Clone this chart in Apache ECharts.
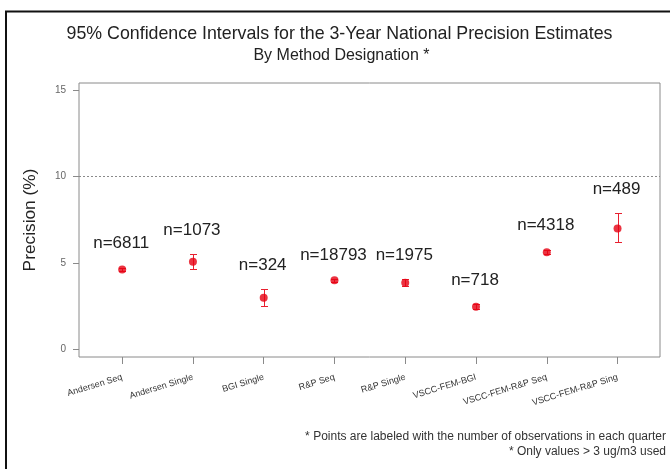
<!DOCTYPE html>
<html>
<head>
<meta charset="utf-8">
<script src="https://cdn.jsdelivr.net/npm/echarts@6/dist/echarts.min.js"></script>
<style>
  html, body { margin: 0; padding: 0; background: #fff; }
  #chart { width: 670px; height: 469px; }
</style>
</head>
<body>
<div id="chart"></div>
<script>
// Method designations along the x axis
const categories = [
  'Andersen Seq', 'Andersen Single', 'BGI Single', 'R&P Seq',
  'R&P Single', 'VSCC-FEM-BGI', 'VSCC-FEM-R&P Seq', 'VSCC-FEM-R&P Sing'
];
// Precision estimate (%) and its 95% confidence limits
const precision = [4.63, 5.07, 2.99, 4.00, 3.86, 2.47, 5.63, 7.00];
const lowerCI   = [4.53, 4.65, 2.52, 3.92, 3.68, 2.33, 5.50, 6.23];
const upperCI   = [4.73, 5.52, 3.49, 4.08, 4.05, 2.62, 5.77, 7.87];
// Number of observations behind each estimate
const counts = [6811, 1073, 324, 18793, 1975, 718, 4318, 489];
// Tick values
const yTicks = [0, 5, 10, 15];
const xTicks = categories.map((_, i) => i);
const referenceLine = 10;

const FONT = 'Liberation Sans, Arial, sans-serif';
const pointColor = '#e60012';
const barColor = '#e8202f';
const frameColor = '#8a8a8a';

const chart = echarts.init(document.getElementById('chart'), null, { renderer: 'canvas' });

const intervalData = categories.map((_, i) => [i, lowerCI[i], upperCI[i], counts[i]]);
const pointData = categories.map((_, i) => [i, precision[i]]);

chart.setOption({
  backgroundColor: '#ffffff',
  animation: false,
  graphic: [
    {
      type: 'rect', silent: true, z: 0,
      shape: { x: 6, y: 11.5, width: 700, height: 500 },
      style: { fill: 'none', stroke: '#111', lineWidth: 2 }
    },
    {
      type: 'text', x: 339.5, y: 34, z: 10,
      style: {
        text: '95% Confidence Intervals for the 3-Year National Precision Estimates',
        fontFamily: FONT, fontSize: 17.8,
        fill: '#222', align: 'center', verticalAlign: 'middle'
      }
    },
    {
      type: 'text', x: 341.5, y: 55.5, z: 10,
      style: {
        text: 'By Method Designation *',
        fontFamily: FONT, fontSize: 16,
        fill: '#222', align: 'center', verticalAlign: 'middle'
      }
    },
    {
      type: 'text', x: 666, y: 437, z: 10,
      style: {
        text: '* Points are labeled with the number of observations in each quarter',
        fontFamily: FONT, fontSize: 12,
        fill: '#333', align: 'right', verticalAlign: 'middle'
      }
    },
    {
      type: 'text', x: 666, y: 452, z: 10,
      style: {
        text: '* Only values > 3 ug/m3 used',
        fontFamily: FONT, fontSize: 12,
        fill: '#333', align: 'right', verticalAlign: 'middle'
      }
    }
  ],
  grid: {
    left: 79, right: 10, top: 83, bottom: 112,
    show: true, borderColor: frameColor, borderWidth: 1, backgroundColor: 'transparent'
  },
  xAxis: {
    type: 'value',
    min: -0.61, max: 7.6,
    axisLine: { show: false, onZero: false },
    splitLine: { show: false },
    axisTick: {
      show: true, inside: false, length: 7, customValues: xTicks,
      lineStyle: { color: frameColor, width: 1 }
    },
    axisLabel: {
      customValues: xTicks,
      rotate: 17, margin: 20,
      fontFamily: FONT, fontSize: 9, color: '#333',
      formatter: v => categories[Math.round(v)] || ''
    }
  },
  yAxis: {
    type: 'value',
    min: -0.446, max: 15.43,
    name: 'Precision (%)',
    nameLocation: 'middle',
    nameRotate: 90,
    nameGap: 40,
    nameTextStyle: { fontFamily: FONT, fontSize: 17.3, color: '#222' },
    axisLine: { show: false, onZero: false },
    splitLine: { show: false },
    axisTick: {
      show: true, inside: false, length: 6, customValues: yTicks,
      lineStyle: { color: frameColor, width: 1 }
    },
    axisLabel: {
      customValues: yTicks, margin: 13,
      fontFamily: FONT, fontSize: 10, color: '#666'
    }
  },
  series: [
    {
      // confidence interval whiskers (drawn as thin filled bars) and count labels
      type: 'custom',
      data: intervalData,
      z: 2,
      renderItem: function (params, api) {
        const x = api.value(0);
        const lo = api.coord([x, api.value(1)]);
        const hi = api.coord([x, api.value(2)]);
        const cx = Math.round(lo[0]);
        const yLo = Math.round(lo[1]);
        const yHi = Math.round(hi[1]);
        const cap = 3;
        const fill = { fill: barColor };
        return {
          type: 'group',
          children: [
            { type: 'rect', shape: { x: cx, y: yHi, width: 1, height: yLo - yHi + 1 }, style: fill },
            { type: 'rect', shape: { x: cx - cap, y: yHi, width: 2 * cap + 1, height: 1 }, style: fill },
            { type: 'rect', shape: { x: cx - cap, y: yLo, width: 2 * cap + 1, height: 1 }, style: fill },
            { type: 'text', x: hi[0] - 1, y: hi[1] - 24,
              style: {
                text: 'n=' + api.value(3),
                fontFamily: FONT, fontSize: 17,
                fill: '#222', align: 'center', verticalAlign: 'middle'
              } }
          ]
        };
      }
    },
    {
      // point estimates
      type: 'scatter',
      data: pointData,
      symbol: 'circle',
      symbolSize: 8,
      z: 3,
      itemStyle: { color: pointColor },
      markLine: {
        silent: true,
        symbol: ['none', 'none'],
        label: { show: false },
        lineStyle: { color: '#8a8a8a', type: [2, 2], width: 1 },
        data: [{ yAxis: referenceLine }]
      }
    }
  ]
});
</script>
</body>
</html>
